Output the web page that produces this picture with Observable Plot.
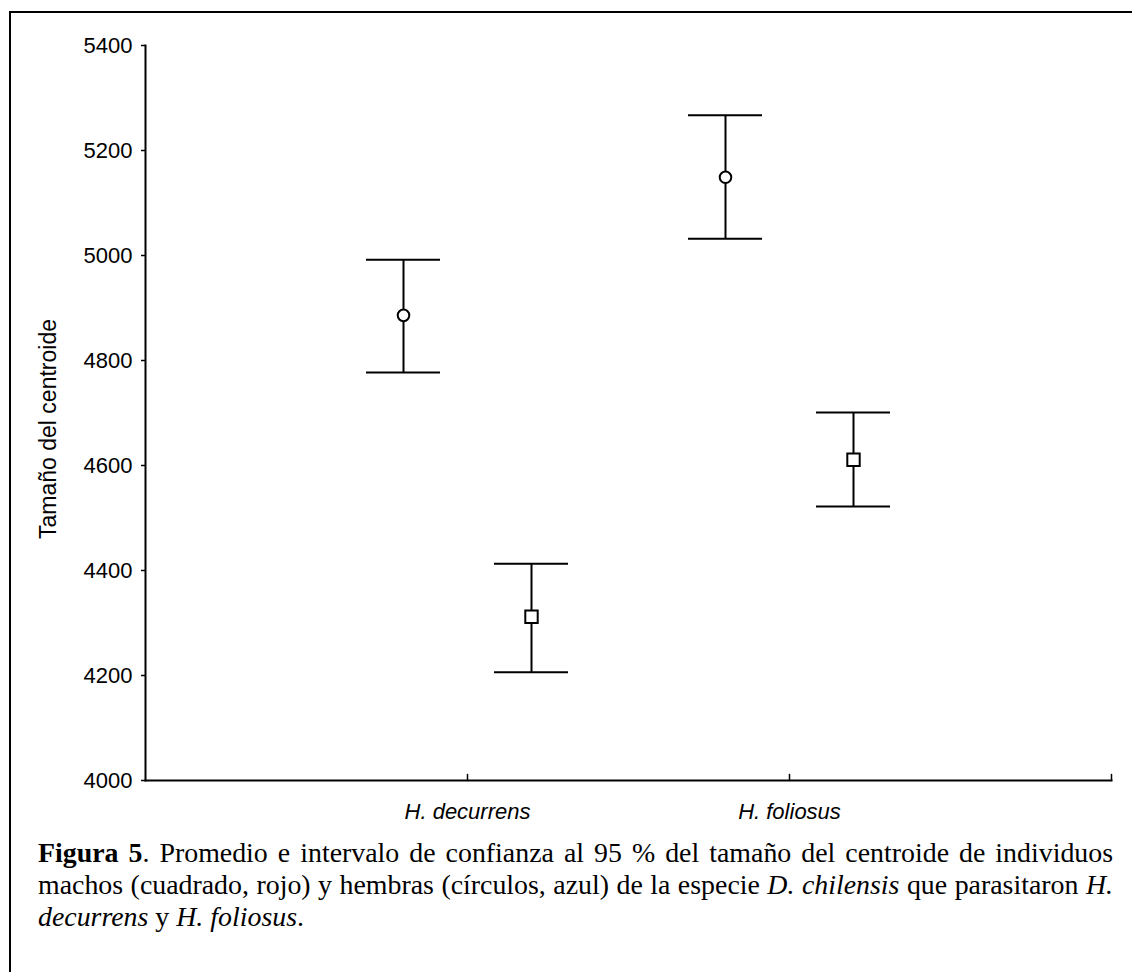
<!DOCTYPE html>
<html>
<head>
<meta charset="utf-8">
<script src="https://cdn.jsdelivr.net/npm/d3@7"></script>
<script src="https://cdn.jsdelivr.net/npm/@observablehq/plot@0.6"></script>
<style>
  body { margin: 0; background: #fff; }
  #fig { position: relative; width: 1132px; height: 972px; overflow: hidden; background: #fff; }
  #border { position: absolute; left: 9px; top: 11px; width: 1200px; height: 1200px;
            border-left: 2px solid #000; border-top: 2px solid #000; }
  #chart { position: absolute; left: 0; top: 0; }
  #caption { position: absolute; left: 38px; top: 837px; width: 1075px;
             font-family: "Liberation Serif", "Times New Roman", serif; font-size: 24px;
             line-height: 32px; color: #000; }
  #caption .line { text-align: justify; text-align-last: justify; white-space: nowrap; }
  #caption .line.last { text-align-last: left; }
  #caption.measure .line { text-align-last: left; }
</style>
</head>
<body>
<div id="fig">
  <div id="border"></div>
  <div id="chart"></div>
  <div id="caption">
    <div class="line"><span><b>Figura 5</b>. Promedio e intervalo de confianza al 95 % del tamaño del centroide de individuos</span></div>
    <div class="line"><span>machos (cuadrado, rojo) y hembras (círculos, azul) de la especie <i>D. chilensis</i> que parasitaron <i>H.</i></span></div>
    <div class="line last"><span><i>decurrens</i> y <i>H. foliosus</i>.</span></div>
  </div>
</div>
<script>
// Host plant species (x categories)
const species = ["H. decurrens", "H. foliosus"];

// Females (circles): mean and 95% confidence interval
const femaleMean = [4886, 5149];
const femaleLow  = [4777, 5032];
const femaleHigh = [4992, 5267];

// Males (squares): mean and 95% confidence interval
const maleMean = [4312, 4611];
const maleLow  = [4206, 4522];
const maleHigh = [4413, 4701];

// Y axis ticks
const yTicks = [4000, 4200, 4400, 4600, 4800, 5000, 5200, 5400];
const yLabel = "Tamaño del centroide";

const females = species.map((s, i) => ({species: s, mean: femaleMean[i], low: femaleLow[i], high: femaleHigh[i]}));
const males   = species.map((s, i) => ({species: s, mean: maleMean[i], low: maleLow[i], high: maleHigh[i]}));

// Offset of each sex within its species group (px)
const shift = 64;
const capInset = -37;

// Short upward tick drawn from the axis line
const tickUp = {draw(ctx, l) { ctx.moveTo(0, 0); ctx.lineTo(0, -l); }};

function intervalMarks(data, dx, symbol, r) {
  const cap = (y) => Plot.ruleY(data, {y, x1: "species", x2: "species", dx, insetLeft: capInset, insetRight: capInset, stroke: "#000", strokeWidth: 2});
  return [
    Plot.ruleX(data, {x: "species", y1: "low", y2: "high", dx, stroke: "#000", strokeWidth: 2}),
    cap("high"),
    cap("low"),
    Plot.dot(data, {x: "species", y: "mean", dx, symbol, r, fill: "#fff", stroke: "#000", strokeWidth: 2})
  ];
}

const chart = Plot.plot({
  width: 1132,
  height: 840,
  marginLeft: 145,
  marginRight: 21,
  marginTop: 45,
  marginBottom: 60,
  style: {fontFamily: "'Liberation Sans', Arial, sans-serif", fontSize: "22px", color: "#000", background: "transparent"},
  x: {type: "point", domain: species, padding: 1},
  y: {domain: [4000, 5400]},
  marks: [
    Plot.frame({anchor: "left", stroke: "#000", strokeWidth: 2}),
    Plot.frame({anchor: "bottom", stroke: "#000", strokeWidth: 2}),
    Plot.axisY(yTicks, {tickSize: 4, tickPadding: 9, strokeWidth: 1.5, tickFormat: d => String(d), label: null}),
    Plot.text([yLabel], {frameAnchor: "left", textAnchor: "middle", lineAnchor: "middle", dx: -97, dy: 16, rotate: -90, text: d => d, fontSize: 23}),
    Plot.axisX({tickSize: 0, tickPadding: 23, fontStyle: "italic", label: null}),
    Plot.vector(species, {x: d => d, frameAnchor: "bottom", length: 6, rotate: 0, anchor: "start", shape: tickUp, stroke: "#000", strokeWidth: 1.5}),
    Plot.vector([species.length], {frameAnchor: "bottom-right", length: 6, rotate: 0, anchor: "start", shape: tickUp, stroke: "#000", strokeWidth: 1.5}),
    ...intervalMarks(females, -shift, "circle", 5.8),
    ...intervalMarks(males, shift, "square", 7)
  ]
});
document.getElementById("chart").appendChild(chart);

// Size the caption so its widest full line just fits the column before justification
const cap = document.getElementById("caption");
const spans = [...cap.querySelectorAll(".line:not(.last) span")];
cap.classList.add("measure");
let fs = 24;
for (let k = 0; k < 3; k++) {
  const widest = Math.max(...spans.map(s => s.getBoundingClientRect().width));
  fs = fs * 1068 / widest;
  cap.style.fontSize = fs + "px";
}
cap.classList.remove("measure");
</script>
</body>
</html>
